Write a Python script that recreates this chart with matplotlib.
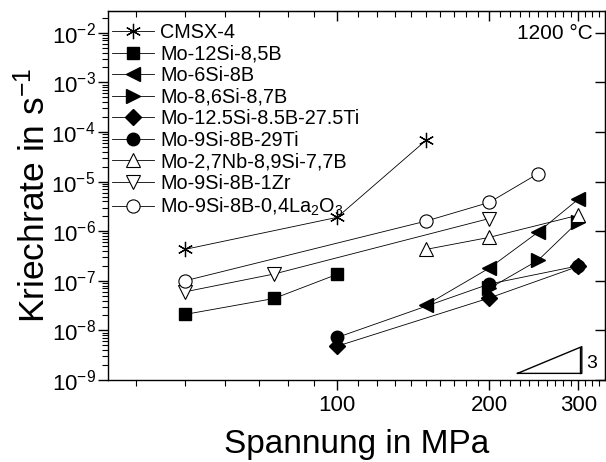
import numpy as np
import matplotlib
matplotlib.use("Agg")
import matplotlib.pyplot as plt
from matplotlib.ticker import FixedLocator, NullFormatter, FuncFormatter, LogLocator

plt.rcParams['font.family'] = ['Liberation Sans', 'DejaVu Sans']
plt.rcParams['mathtext.default'] = 'regular'

# creep data at 1200 C (stress in MPa, creep rate in 1/s)
cmsx4_x = [50, 100, 150]
cmsx4_y = [4.3e-7, 1.9e-6, 6.8e-5]

mo12si_x = [50, 75, 100]
mo12si_y = [2.1e-8, 4.4e-8, 1.35e-7]

mo6si_x = [150, 200, 250, 300]
mo6si_y = [3.25e-8, 1.8e-7, 9.6e-7, 4.4e-6]

mo86si_x = [200, 250, 300]
mo86si_y = [7.0e-8, 2.6e-7, 1.55e-6]

mo125ti_x = [100, 200, 300]
mo125ti_y = [4.8e-9, 4.5e-8, 1.95e-7]

mo9ti_x = [100, 200, 300]
mo9ti_y = [7.2e-9, 8.6e-8, 2.0e-7]

mo27nb_x = [150, 200, 300]
mo27nb_y = [4.3e-7, 7.5e-7, 2.1e-6]

mo1zr_x = [50, 75, 200]
mo1zr_y = [6.0e-8, 1.37e-7, 1.8e-6]

mo04la_x = [50, 150, 200, 250]
mo04la_y = [1.0e-7, 1.6e-6, 3.8e-6, 1.45e-5]

labels = ["CMSX-4", "Mo-12Si-8,5B", "Mo-6Si-8B", "Mo-8,6Si-8,7B",
          "Mo-12.5Si-8.5B-27.5Ti", "Mo-9Si-8B-29Ti", "Mo-2,7Nb-8,9Si-7,7B",
          "Mo-9Si-8B-1Zr", "Mo-9Si-8B-0,4La$_2$O$_3$"]

# slope triangle (exponent 3)
tri_x = [227.5, 305, 305, 227.5]
tri_y = [1.36e-9, 1.36e-9, 4.7e-9, 1.36e-9]
tri_inner_x = [302, 302]
tri_inner_y = [1.36e-9, 4.5e-9]

x_major = [100, 200, 300]
x_minor = [40, 50, 60, 70, 80, 90] + list(range(110, 200, 10)) + list(range(210, 300, 10)) + [310, 320, 330]

fig = plt.figure(figsize=(6.06, 4.62), dpi=100)
W, H = 606, 462
ax = fig.add_axes([108 / W, (H - 380) / H, (605 - 108) / W, (380 - 11) / H])

series = [
    (cmsx4_x, cmsx4_y, dict(marker=(6, 2, 0), ms=11, mfc='none', mew=0.9)),
    (mo12si_x, mo12si_y, dict(marker='s', ms=8, mfc='black')),
    (mo6si_x, mo6si_y, dict(marker='<', ms=10, mfc='black')),
    (mo86si_x, mo86si_y, dict(marker='>', ms=10, mfc='black')),
    (mo125ti_x, mo125ti_y, dict(marker='D', ms=8, mfc='black')),
    (mo9ti_x, mo9ti_y, dict(marker='o', ms=9, mfc='black')),
    (mo27nb_x, mo27nb_y, dict(marker='^', ms=10, mfc='white', mew=0.8)),
    (mo1zr_x, mo1zr_y, dict(marker='v', ms=10, mfc='white', mew=0.8)),
    (mo04la_x, mo04la_y, dict(marker='o', ms=9.5, mfc='white', mew=0.8)),
]
for (xs, ys, st), lab in zip(series, labels):
    ax.plot(xs, ys, color='black', lw=0.6, mec='black', label=lab, **st)

ax.plot(tri_x, tri_y, color='black', lw=1.0)
ax.plot(tri_inner_x, tri_inner_y, color='black', lw=1.0)
ax.text(319, 2.2e-9, "3", fontsize=14, ha='center', va='center')

ax.set_xscale('log')
ax.set_yscale('log')
ax.set_xlim(35.2, 339)
ax.set_ylim(1e-9, 2.75e-2)

ax.xaxis.set_major_locator(FixedLocator(x_major))
ax.xaxis.set_minor_locator(FixedLocator(x_minor))
ax.xaxis.set_major_formatter(FuncFormatter(lambda v, p: f"{v:.0f}"))
ax.xaxis.set_minor_formatter(NullFormatter())
ax.yaxis.set_major_locator(LogLocator(base=10, numticks=20))
ax.yaxis.set_minor_locator(LogLocator(base=10, subs=np.arange(2, 10), numticks=20))
ax.yaxis.set_major_formatter(FuncFormatter(lambda v, p: r"$10^{%d}$" % round(np.log10(v))))
ax.yaxis.set_minor_formatter(NullFormatter())

ax.tick_params(which='major', direction='out', length=7, width=1.0, labelsize=16, pad=4)
ax.tick_params(which='minor', direction='out', length=4, width=0.8)
ax.tick_params(axis='y', which='major', pad=2)
for sp in ax.spines.values():
    sp.set_linewidth(1.0)

top = ax.secondary_xaxis('top')
top.xaxis.set_major_locator(FixedLocator(x_major))
top.xaxis.set_minor_locator(FixedLocator(x_minor))
top.xaxis.set_major_formatter(NullFormatter())
top.xaxis.set_minor_formatter(NullFormatter())
top.tick_params(which='major', direction='in', length=7, width=1.0)
top.tick_params(which='minor', direction='in', length=4, width=0.8)

right = ax.secondary_yaxis('right')
right.yaxis.set_major_locator(LogLocator(base=10, numticks=20))
right.yaxis.set_minor_locator(FixedLocator([]))
right.yaxis.set_major_formatter(NullFormatter())
right.tick_params(which='major', direction='in', length=7, width=1.0)

ax.set_xlabel("Spannung in MPa", fontsize=24, labelpad=9)
ax.set_ylabel("Kriechrate in s$^{-1}$", fontsize=25.5, labelpad=0)

ax.text(0.976, 0.94, "1200 °C", transform=ax.transAxes, fontsize=15,
        ha='right', va='center')

ax.legend(loc='upper left', bbox_to_anchor=(-0.015, 1.0), frameon=False, fontsize=14.3,
          handlelength=2.1, handletextpad=0.3, labelspacing=0.13,
          borderaxespad=0.15, borderpad=0.45)

fig.savefig("out.png", dpi=100)
